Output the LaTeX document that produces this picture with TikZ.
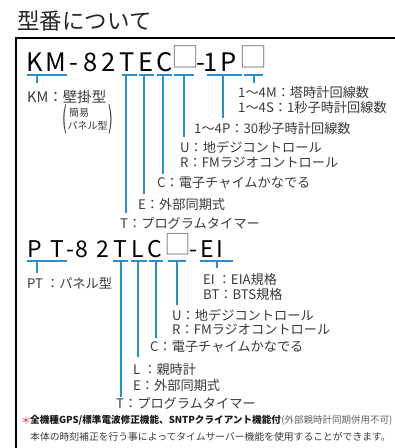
\documentclass[tikz,border=0pt]{standalone}
\usepackage{fontspec}
\setmainfont{Noto Sans CJK JP}
\usepackage{graphicx}
\definecolor{blu}{HTML}{2B8FCB}
\definecolor{labc}{HTML}{3A3A3A}
\definecolor{boxc}{HTML}{8A8A8A}
\definecolor{astc}{HTML}{D8302F}
\tikzset{
  bl/.style={draw=blu, line width=2pt},
  lab/.style={anchor=west, inner sep=0pt, text=labc, font=\fontsize{13.2}{15}\selectfont},
  smalllab/.style={anchor=west, inner sep=0pt, text=labc, font=\fontsize{10}{12}\selectfont},
  parlab/.style={anchor=center, inner sep=0pt, text=labc, font=\fontsize{14}{15}\selectfont},
  mchA/.style={anchor=base, inner sep=0pt, text=black, font=\fontsize{25.5}{28}\selectfont},
  mchB/.style={anchor=base, inner sep=0pt, text=black, font=\fontsize{23}{26}\selectfont},
  boxA/.style={anchor=base, inner sep=0pt, text=boxc, font=\fontsize{28}{30}\selectfont},
  boxB/.style={anchor=base, inner sep=0pt, text=boxc, font=\fontsize{27}{29}\selectfont},
}
\begin{document}
\begin{tikzpicture}[x=1pt,y=-1pt]
\useasboundingbox (0,0) rectangle (395,448);
% title and frame
\node[anchor=west, inner sep=0pt, text=black!85, font=\fontsize{22.5}{24}\selectfont] (title) at (17,21) {型番について};
\coordinate (fr1) at (395,38);
\coordinate (fr2) at (16,38);
\coordinate (fr3) at (16,448);
\draw[line width=1.3pt] (fr1) -- (fr2) -- (fr3);

% ===== model 1 =====
\node[mchA] (a1) at (34.5,71) {K};
\node[mchA] (a2) at (55.5,71) {M};
\node[mchA] (a3) at (74,71) {-};
\node[mchA] (a4) at (90.5,71) {8};
\node[mchA] (a5) at (108.5,71) {2};
\node[mchA] (a6) at (127.5,71) {T};
\node[mchA] (a7) at (146,71) {E};
\node[mchA] (a8) at (165,71) {C};
\node[boxA] (a9) at (185,67.5) {□};
\node[mchA] (a10) at (200.5,71) {-};
\node[mchA] (a11) at (211,71) {1};
\node[mchA] (a12) at (229,71) {P};
\node[boxA] (a13) at (253.5,67.5) {□};

% underline coordinates
\coordinate (uKMa) at (27,75);  \coordinate (uKMb) at (67,75);
\coordinate (uTa) at (122,75);  \coordinate (uTb) at (137,75);
\coordinate (uEa) at (139,75);  \coordinate (uEb) at (154,75);
\coordinate (uCa) at (157,75);  \coordinate (uCb) at (172,75);
\coordinate (uXa) at (174,75);  \coordinate (uXb) at (194,75);
\coordinate (uPa) at (207,75);  \coordinate (uPb) at (242,75);
\coordinate (uYa) at (244,75);  \coordinate (uYb) at (263,75);
\foreach \s in {KM,T,E,C,X,P,Y} \draw[bl] (u\s a) -- (u\s b);

% tick tops and bottoms
\coordinate (kKM) at (37,75);  \coordinate (eKM) at (37,83);
\coordinate (kT) at (126,75);  \coordinate (eT) at (126,213);
\coordinate (kE) at (144,75);  \coordinate (eE) at (144,194);
\coordinate (kC) at (163,75);  \coordinate (eC) at (163,174);
\coordinate (kX) at (184,75);  \coordinate (eX) at (184,137);
\coordinate (kP) at (223,75);  \coordinate (eP) at (223,118);
\coordinate (kY) at (253.5,75);  \coordinate (eY) at (253.5,83);
\foreach \s in {KM,T,E,C,X,P,Y} \draw[bl] (k\s) -- (e\s);

% labels model 1
\node[lab, font=\fontsize{14.5}{16}\selectfont] (lKM) at (27,97) {KM：壁掛型};
\node[parlab] (lpar) at (64.5,119.5) {\scalebox{1}[2.1]{(}};
\node[smalllab] (lsimple) at (69,112.5) {簡易};
\node[smalllab] (lpanel) at (67.5,126) {パネル型};
\node[parlab] (rpar) at (110.5,119.5) {\scalebox{1}[2.1]{)}};
\node[lab] (lM) at (238,92) {1〜4M：塔時計回線数};
\node[lab] (lS) at (238,107.5) {1〜4S：1秒子時計回線数};
\node[lab] (lP) at (194,128) {1〜4P：30秒子時計回線数};
\node[lab] (lU) at (180,147) {U：地デジコントロール};
\node[lab] (lR) at (180,163) {R：FMラジオコントロール};
\node[lab] (lC) at (157,183) {C：電子チャイムかなでる};
\node[lab] (lE) at (138,204) {E：外部同期式};
\node[lab] (lT) at (120,223) {T：プログラムタイマー};

% ===== model 2 =====
\node[mchB] (b1) at (35,257) {P};
\node[mchB] (b2) at (57,257) {T};
\node[mchB] (b3) at (70,257) {-};
\node[mchB] (b4) at (81.5,257) {8};
\node[mchB] (b5) at (102.5,257) {2};
\node[mchB] (b6) at (120.5,257) {T};
\node[mchB] (b7) at (138,257) {L};
\node[mchB] (b8) at (155,257) {C};
\node[boxB] (b9) at (178,254) {□};
\node[mchB] (b10) at (193.5,257) {-};
\node[mchB] (b11) at (207,257) {E};
\node[mchB] (b12) at (220,257) {I};

\coordinate (vPTa) at (27,261);  \coordinate (vPTb) at (67,261);
\coordinate (vTa) at (113,261);  \coordinate (vTb) at (128,261);
\coordinate (vLa) at (131,261);  \coordinate (vLb) at (147,261);
\coordinate (vCa) at (149,261);  \coordinate (vCb) at (163,261);
\coordinate (vXa) at (168,261);  \coordinate (vXb) at (186,261);
\coordinate (vEIa) at (200,261); \coordinate (vEIb) at (233,261);
\foreach \s in {PT,T,L,C,X,EI} \draw[bl] (v\s a) -- (v\s b);

\coordinate (mPT) at (37,261);  \coordinate (nPT) at (37,273);
\coordinate (mT) at (121,261);  \coordinate (nT) at (121,397);
\coordinate (mL) at (138,261);  \coordinate (nL) at (138,357);
\coordinate (mC) at (155.5,261);  \coordinate (nC) at (155.5,338);
\coordinate (mX) at (177,261);  \coordinate (nX) at (177,305);
\coordinate (mEI) at (217,261); \coordinate (nEI) at (217,268);
\foreach \s in {PT,T,L,C,X,EI} \draw[bl] (m\s) -- (n\s);

\node[lab] (kPT) at (27,283) {PT ：パネル型};
\node[lab] (kEI) at (203,279) {EI ：EIA規格};
\node[lab] (kBT) at (203,294) {BT：BTS規格};
\node[lab] (kU) at (172,315) {U：地デジコントロール};
\node[lab] (kR) at (172,329.5) {R：FMラジオコントロール};
\node[lab] (kC) at (150,347) {C：電子チャイムかなでる};
\node[lab] (kL) at (133,369) {L ：親時計};
\node[lab] (kE) at (133,385) {E：外部同期式};
\node[lab] (kT) at (116,403) {T：プログラムタイマー};

% footnotes
\node[anchor=west, inner sep=0pt, text=astc, font=\fontsize{10}{12}\selectfont] (ast) at (21,421) {＊};
\node[anchor=west, inner sep=0pt, text=black!90, font=\fontsize{9.6}{12}\selectfont\bfseries] (fn1) at (30,420) {全機種GPS/標準電波修正機能、SNTPクライアント機能付};
\node[anchor=west, inner sep=0pt, text=labc!80, font=\fontsize{9.5}{12}\selectfont] (fn1b) at (fn1.east) {(外部親時計同期併用不可)};
\node[anchor=west, inner sep=0pt, text=labc, font=\fontsize{9.8}{12}\selectfont] (fn2) at (30,437) {本体の時刻補正を行う事によってタイムサーバー機能を使用することができます。};
\end{tikzpicture}
\end{document}
